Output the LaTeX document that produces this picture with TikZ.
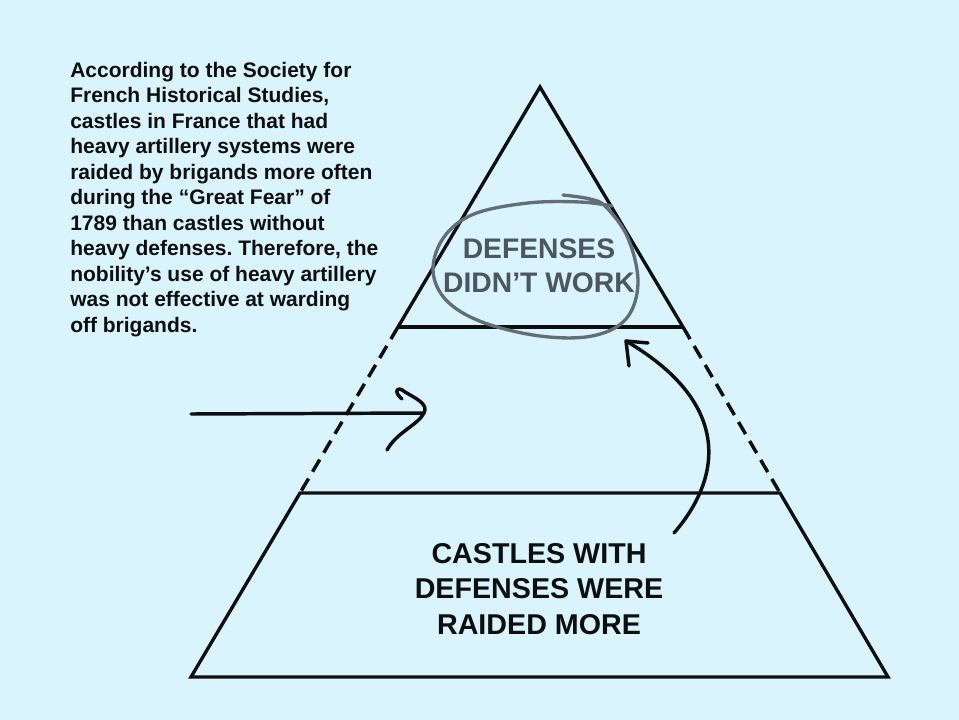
\documentclass[tikz,border=0pt]{standalone}
\usepackage{fontspec}
\setmainfont{Liberation Sans}
\frenchspacing
\definecolor{bg}{RGB}{217,244,252}
\definecolor{ink}{RGB}{12,14,16}
\definecolor{graytext}{RGB}{74,86,96}
\definecolor{circ}{RGB}{98,110,118}
\tikzset{
  edge/.style={draw=ink, line width=2.5pt, line join=miter},
  dashedge/.style={draw=ink, line width=2.6pt, dash pattern=on 10.5pt off 6pt},
  hand/.style={draw=ink, line width=2.6pt, line cap=round, line join=round},
  loopline/.style={draw=circ, line width=2.5pt, line cap=round, line join=round},
  para/.style={anchor=north west, inner sep=0pt, align=left, text=ink,
    font=\bfseries\fontsize{15.75}{19.1}\selectfont},
  toplabel/.style={inner sep=0pt, align=center, text=graytext,
    font=\bfseries\fontsize{21.2}{25.5}\selectfont},
  botlabel/.style={inner sep=0pt, align=center, text=ink,
    font=\bfseries\fontsize{21.5}{26.6}\selectfont}
}
\begin{document}
\begin{tikzpicture}[x=0.75pt,y=-0.75pt]
\fill[bg] (0,0) rectangle (959,720);
\useasboundingbox (0,0) rectangle (959,720);

% pyramid vertices
\coordinate (apex) at (540,87);
\coordinate (ml) at (398,327);
\coordinate (mr) at (683,327);
\coordinate (bl) at (300,493);
\coordinate (br) at (780,493);
\coordinate (fl) at (191,677);
\coordinate (fr) at (888,677);

% top triangle
\draw[edge] (ml) -- (apex) -- (mr);
\draw[edge] (ml) -- (mr);
% dashed middle sides
\draw[dashedge] (ml) -- (bl);
\draw[dashedge] (mr) -- (br);
% bottom trapezoid
\draw[edge] (fl) -- (bl) -- (br) -- (fr) -- cycle;

% texts
\node[para] (para) at (70,62) {According to the Society for\\
French Historical Studies,\\
castles in France that had\\
heavy artillery systems were\\
raided by brigands more often\\
during the “Great Fear” of\\
1789 than castles without\\
heavy defenses. Therefore, the\\
nobility’s use of heavy artillery\\
was not effective at warding\\
off brigands.};

\node[toplabel] (top) at (539,266) {DEFENSES\\DIDN’T WORK};
\node[botlabel] (bottom) at (539,589) {CASTLES WITH\\DEFENSES WERE\\RAIDED MORE};

% hand-drawn loop around top label
\draw[loopline] plot[smooth, tension=0.6] coordinates {
  (563,195) (590,199) (606,207) (628,238) (638,283) (626,319)
  (592,336) (540,336) (482,322) (446,300) (433,270) (444,237)
  (474,214) (528,203) (580,202) (612,206)};

% left arrow
\coordinate (lstart) at (191,414);
\coordinate (ltip) at (424,413);
\draw[hand] (lstart) -- (ltip);
\draw[hand] (402,399) .. controls (393,392) and (397,385) .. (405,392)
  .. controls (415,398) and (429,404) .. (ltip)
  .. controls (418,425) and (397,432) .. (387,450);

% right curved arrow
\coordinate (rstart) at (674,533);
\coordinate (rtip) at (626,341);
\draw[hand] (rstart) .. controls (720,480) and (735,405) .. (rtip);
\draw[hand] (648,343) -- (rtip) -- (629,366);
\end{tikzpicture}
\end{document}
